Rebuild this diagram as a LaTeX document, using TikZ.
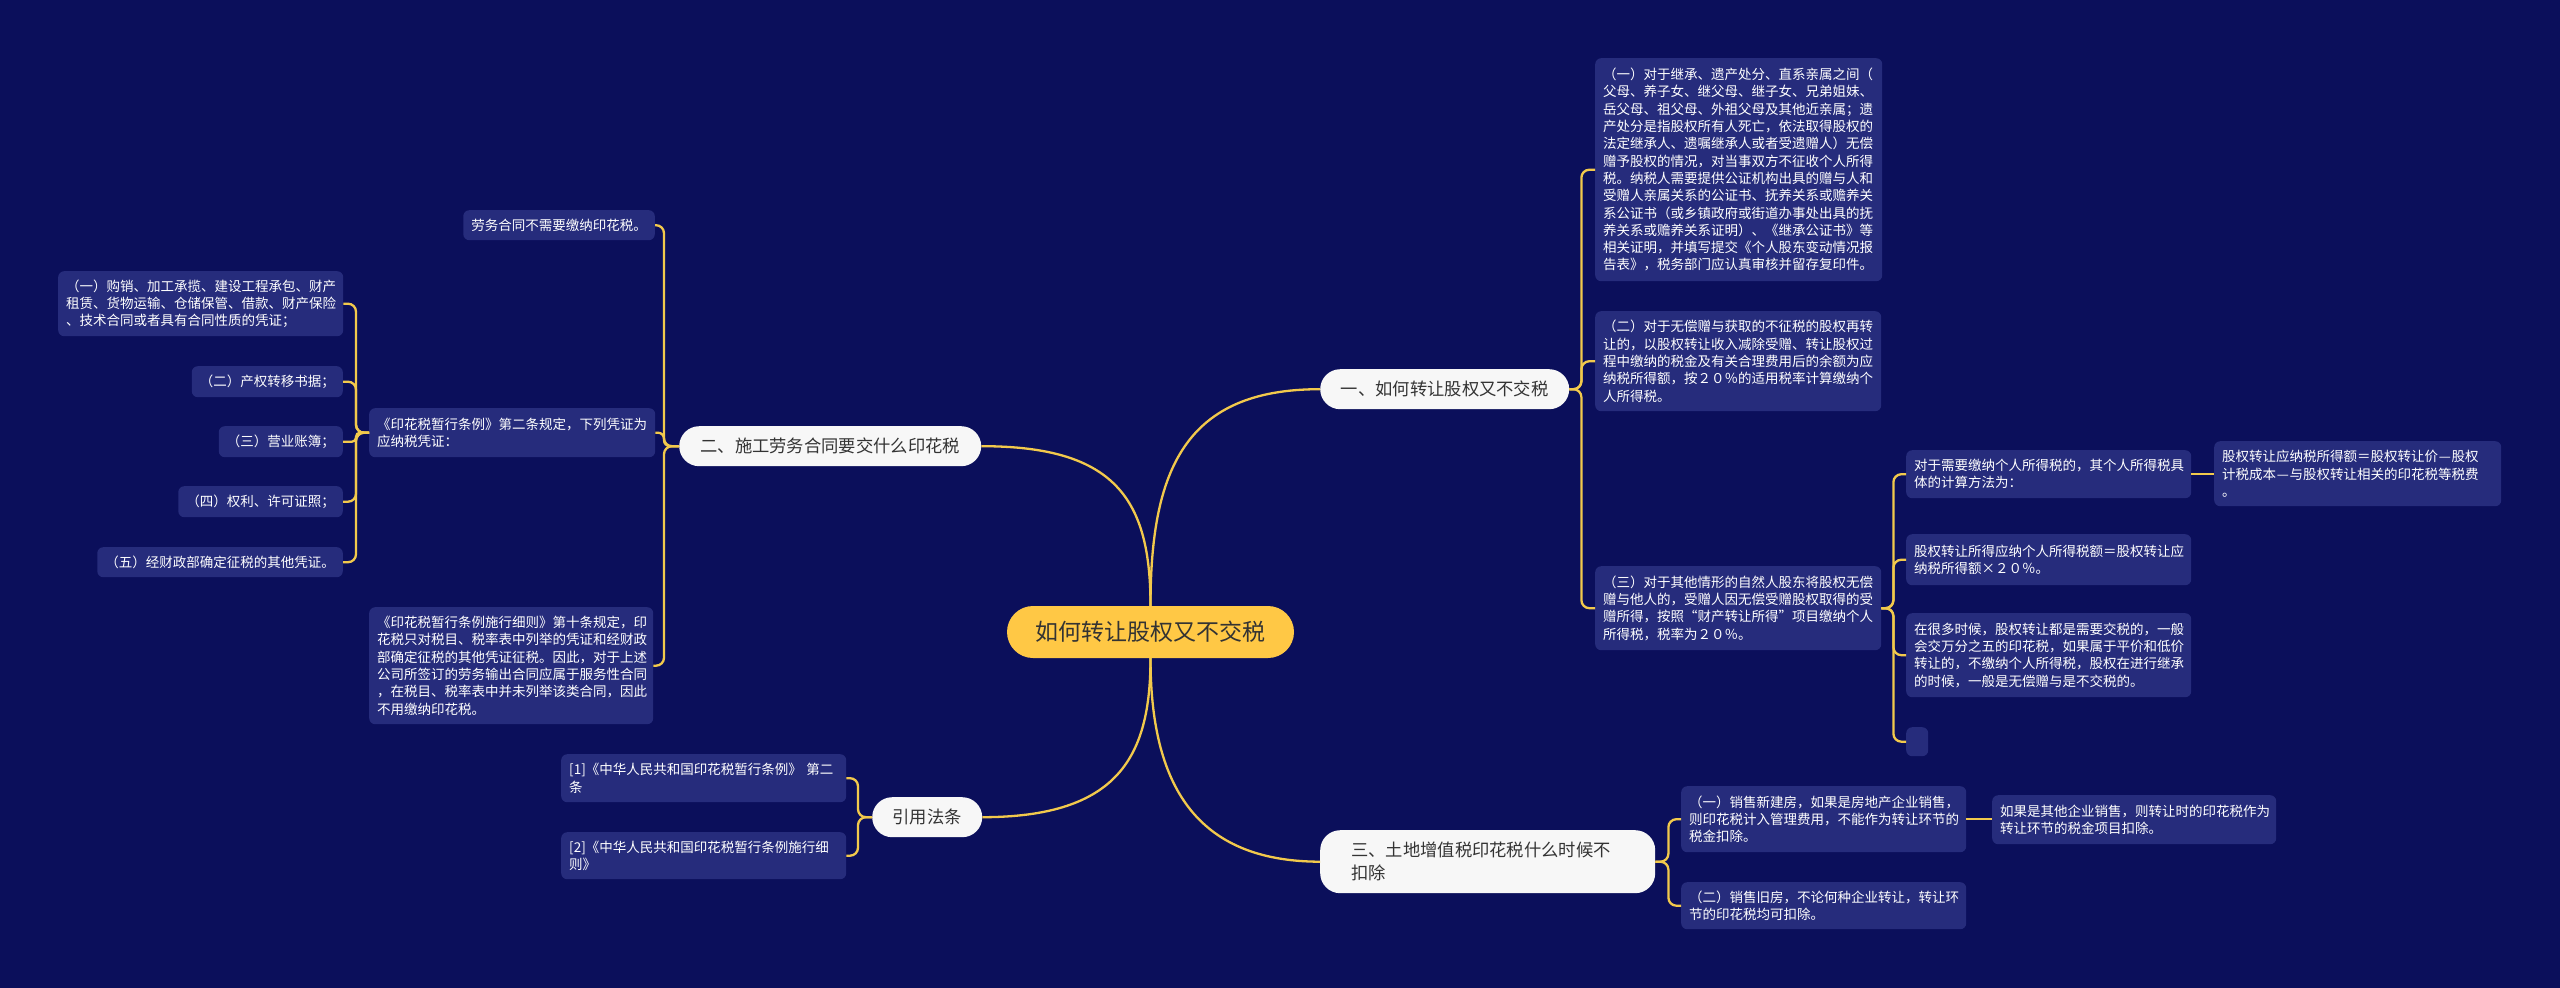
\documentclass[tikz,border=0pt]{standalone}
\usepackage{fontspec}
\setmainfont{Noto Sans CJK SC}
\definecolor{bg}{HTML}{0B0F5B}
\definecolor{boxc}{HTML}{262C7C}
\definecolor{linec}{HTML}{F2C94C}
\definecolor{rootc}{HTML}{FFC845}
\definecolor{darkc}{HTML}{333333}
\definecolor{branchc}{HTML}{F7F7F7}
\newcommand{\mywdash}{\makebox[13.5pt][c]{—}}
\newcommand{\mylquo}{\makebox[13.5pt][r]{“}}
\newcommand{\myrquo}{\makebox[13.5pt][l]{”}}
\tikzset{
  leaf/.style={fill=boxc, rounded corners=6pt, inner xsep=8pt, inner ysep=3pt, align=left, text=white,
    font=\fontsize{13.5}{17.3}\selectfont, anchor=north west},
  leafr/.style={leaf, anchor=north east},
  branch/.style={fill=branchc, rounded corners=20pt, text=darkc, inner xsep=20pt, inner ysep=0pt,
    font=\fontsize{17.3}{23}\selectfont, anchor=north west, minimum height=40pt},
  rootnode/.style={fill=rootc, rounded corners=26pt, text=darkc, inner sep=0pt,
    font=\fontsize{23}{28}\selectfont, minimum width=287pt, minimum height=52pt},
  conn/.style={draw=linec, line width=2.3pt},
  brk/.style={conn, rounded corners=8pt},
}
\begin{document}
\begin{tikzpicture}[x=1pt,y=-1pt]
\fill[bg] (0,0) rectangle (2560,988);
\useasboundingbox (0,0) rectangle (2560,988);

% root and branches
\node[rootnode] (root) at (1150.5,632) {如何转让股权又不交税};
\node[branch, minimum width=249pt] (b1) at (1320,369) {一、如何转让股权又不交税};
\node[branch, minimum width=302pt] (b2) at (679,426) {二、施工劳务合同要交什么印花税};
\node[branch, text width=273pt, inner xsep=31pt, align=left, minimum height=63pt] (b3) at (1320,830) {三、土地增值税印花税什么时候不\\扣除};
\node[branch, minimum width=110pt] (b4) at (872,797) {引用法条};

% branch 1 children
\node[leaf, text width=271pt, minimum height=223pt] (r1) at (1595,58) {（一）对于继承、遗产处分、直系亲属之间（\\父母、养子女、继父母、继子女、兄弟姐妹、\\岳父母、祖父母、外祖父母及其他近亲属；遗\\产处分是指股权所有人死亡，依法取得股权的\\法定继承人、遗嘱继承人或者受遗赠人）无偿\\赠予股权的情况，对当事双方不征收个人所得\\税。纳税人需要提供公证机构出具的赠与人和\\受赠人亲属关系的公证书、抚养关系或赡养关\\系公证书（或乡镇政府或街道办事处出具的抚\\养关系或赡养关系证明）、《继承公证书》等\\相关证明，并填写提交《个人股东变动情况报\\告表》，税务部门应认真审核并留存复印件。};
\node[leaf, text width=270pt, minimum height=100pt] (r2) at (1595,311) {（二）对于无偿赠与获取的不征税的股权再转\\让的，以股权转让收入减除受赠、转让股权过\\程中缴纳的税金及有关合理费用后的余额为应\\纳税所得额，按２０％的适用税率计算缴纳个\\人所得税。};
\node[leaf, text width=270pt, minimum height=84pt] (r3) at (1595,566) {（三）对于其他情形的自然人股东将股权无偿\\赠与他人的，受赠人因无偿受赠股权取得的受\\赠所得，按照\mylquo 财产转让所得\myrquo 项目缴纳个人\\所得税，税率为２０％。};

% (三) children
\node[leaf, text width=269pt, minimum height=48pt] (ra) at (1906,450) {对于需要缴纳个人所得税的，其个人所得税具\\体的计算方法为：};
\node[leaf, text width=271pt, minimum height=65pt] (rac) at (2214,441) {股权转让应纳税所得额＝股权转让价\mywdash 股权\\计税成本\mywdash 与股权转让相关的印花税等税费\\。};
\node[leaf, text width=269pt, minimum height=51pt] (rb) at (1906,534) {股权转让所得应纳个人所得税额＝股权转让应\\纳税所得额×２０％。};
\node[leaf, text width=269pt, minimum height=84pt] (rc) at (1906,613) {在很多时候，股权转让都是需要交税的，一般\\会交万分之五的印花税，如果属于平价和低价\\转让的，不缴纳个人所得税，股权在进行继承\\的时候，一般是无偿赠与是不交税的。};
\node[leaf, inner sep=0pt, minimum width=22pt, minimum height=29pt] (rd) at (1906,727) {};

% branch 3 children
\node[leaf, text width=269pt, minimum height=66pt] (t1) at (1681,786) {（一）销售新建房，如果是房地产企业销售，\\则印花税计入管理费用，不能作为转让环节的\\税金扣除。};
\node[leaf, text width=268pt, minimum height=49pt] (t1c) at (1992,795) {如果是其他企业销售，则转让时的印花税作为\\转让环节的税金项目扣除。};
\node[leaf, text width=269pt, minimum height=47pt] (t2) at (1681,882) {（二）销售旧房，不论何种企业转让，转让环\\节的印花税均可扣除。};

% branch 2 children
\node[leafr, minimum height=30pt] (l1) at (655,210) {劳务合同不需要缴纳印花税。};
\node[leaf, text width=270pt, minimum height=49pt] (l2) at (369,408) {《印花税暂行条例》第二条规定，下列凭证为\\应纳税凭证：};
\node[leaf, text width=268pt, minimum height=117pt] (l3) at (369,607) {《印花税暂行条例施行细则》第十条规定，印\\花税只对税目、税率表中列举的凭证和经财政\\部确定征税的其他凭证征税。因此，对于上述\\公司所签订的劳务输出合同应属于服务性合同\\，在税目、税率表中并未列举该类合同，因此\\不用缴纳印花税。};

% 第二条 children
\node[leaf, text width=269pt, minimum height=65pt] (m1) at (58,271) {（一）购销、加工承揽、建设工程承包、财产\\租赁、货物运输、仓储保管、借款、财产保险\\、技术合同或者具有合同性质的凭证；};
\node[leafr, minimum height=31pt] (m2) at (343,366) {（二）产权转移书据；};
\node[leafr, minimum height=31pt] (m3) at (343,426) {（三）营业账簿；};
\node[leafr, minimum height=31pt] (m4) at (343,486) {（四）权利、许可证照；};
\node[leafr, minimum height=30pt] (m5) at (343,547) {（五）经财政部确定征税的其他凭证。};

% branch 4 children
\node[leaf, text width=269pt, minimum height=48pt] (c1) at (561,754) {{[1]}《中华人民共和国印花税暂行条例》~第二\\条};
\node[leaf, text width=269pt, minimum height=47pt] (c2) at (561,832) {{[2]}《中华人民共和国印花税暂行条例施行细\\则》};

% root connectors
\draw[conn] (root.north) .. controls (1150.5,470) and (1185,389) .. (b1.west);
\draw[conn] (root.north) .. controls (1150.5,500) and (1116,446) .. (b2.east);
\draw[conn] (root.south) .. controls (1150.5,784) and (1195,861.5) .. (b3.west);
\draw[conn] (root.south) .. controls (1150.5,757) and (1118,817) .. (b4.east);

% branch 1 bracket
\draw[brk] (b1.east) -- ++(12,0) |- (r1.west);
\draw[brk] (b1.east) -- ++(12,0) |- (r2.west);
\draw[brk] (b1.east) -- ++(12,0) |- (r3.west);
% (三) bracket
\draw[brk] (r3.east) -- ++(12,0) |- (ra.west);
\draw[brk] (r3.east) -- ++(12,0) |- (rb.west);
\draw[brk] (r3.east) -- ++(12,0) |- (rc.west);
\draw[brk] (r3.east) -- ++(12,0) |- (rd.west);
\draw[conn] (ra.east) -- (ra.east -| rac.west);
% branch 3 bracket
\draw[brk] (b3.east) -- ++(13,0) |- (t1.west);
\draw[brk] (b3.east) -- ++(13,0) |- (t2.west);
\draw[conn] (t1.east) -- (t1.east -| t1c.west);
% branch 2 bracket
\draw[brk] (b2.west) -- ++(-15,0) |- (l1.east);
\draw[conn, rounded corners=6pt] (b2.west) -- ++(-15,0) |- (l2.east);
\draw[brk] (b2.west) -- ++(-15,0) |- (l3.east);
% 第二条 bracket
\draw[brk] (l2.west) -- ++(-13,0) |- (m1.east);
\draw[brk] (l2.west) -- ++(-13,0) |- (m2.east);
\draw[conn, rounded corners=4pt] (l2.west) -- ++(-13,0) |- (m3.east);
\draw[brk] (l2.west) -- ++(-13,0) |- (m4.east);
\draw[brk] (l2.west) -- ++(-13,0) |- (m5.east);
% branch 4 bracket
\draw[brk] (b4.west) -- ++(-14,0) |- (c1.east);
\draw[brk] (b4.west) -- ++(-14,0) |- (c2.east);
\end{tikzpicture}
\end{document}
